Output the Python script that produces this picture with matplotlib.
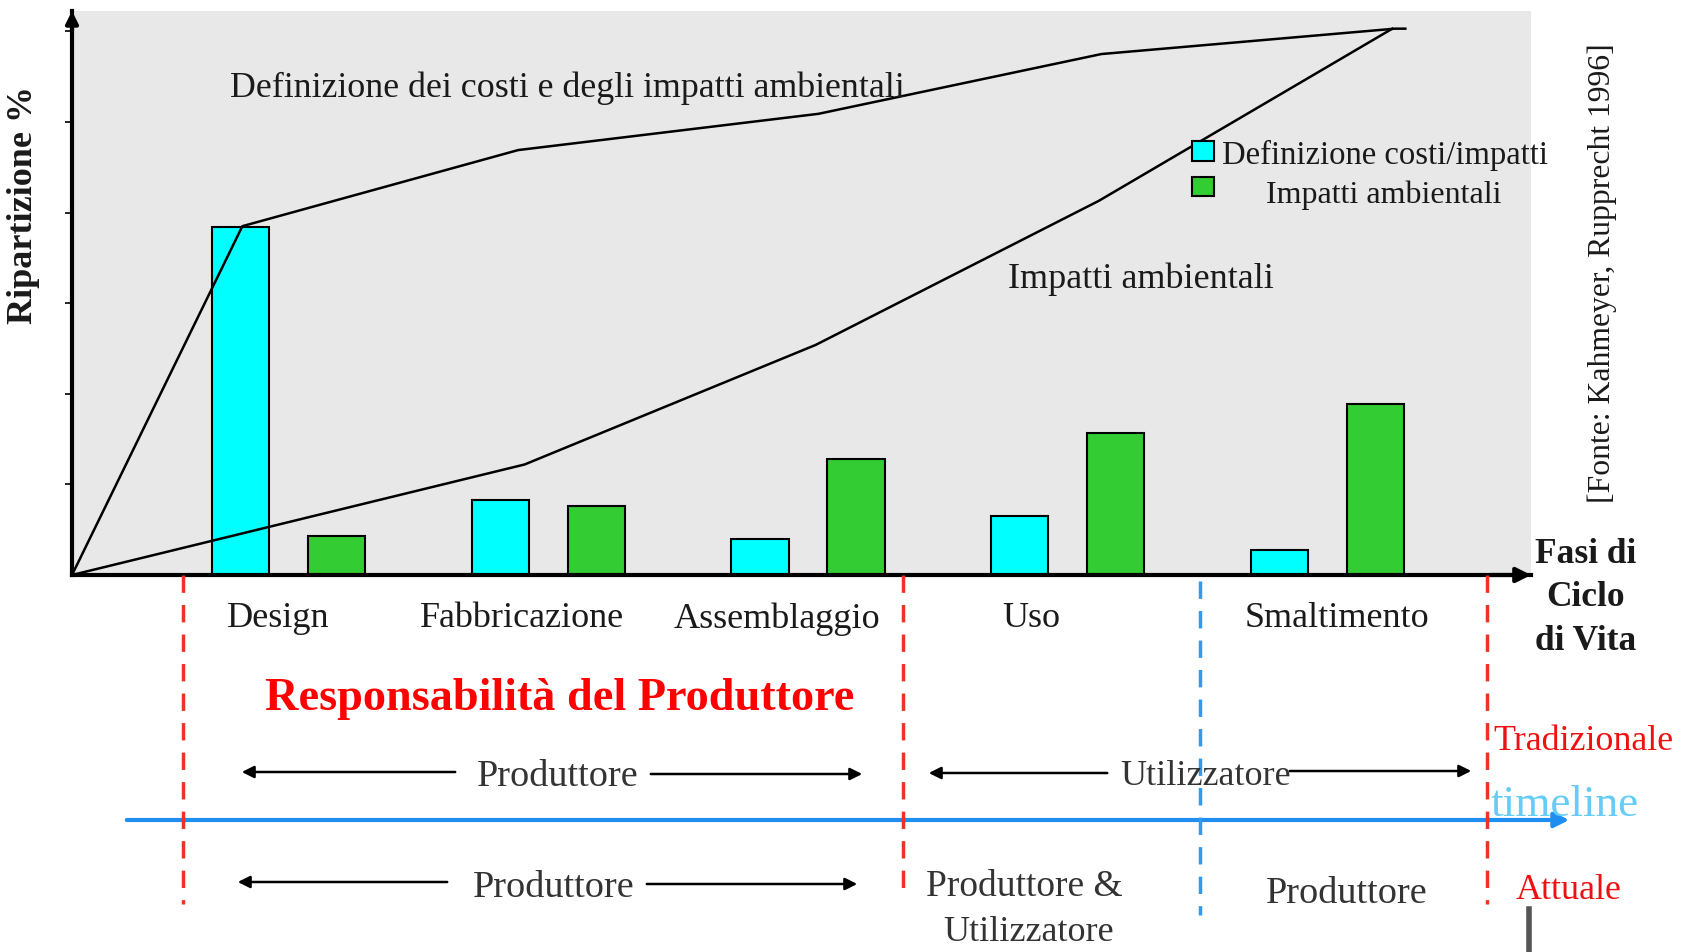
import matplotlib.pyplot as plt
from matplotlib.lines import Line2D
from matplotlib.patches import Rectangle

plt.rcParams['font.family'] = ['Liberation Serif', 'DejaVu Serif']

# dati
fasi = ['Design', 'Fabbricazione', 'Assemblaggio', 'Uso', 'Smaltimento']
definizione = [38.4, 8.3, 4.0, 6.5, 2.8]      # barre ciano
impatti = [4.3, 7.6, 12.8, 15.7, 18.9]         # barre verdi

# curva "Definizione dei costi e degli impatti ambientali"
curva_def_x = [-0.834, -0.178, 0.884, 2.04, 3.13, 4.26, 4.30]
curva_def_y = [0, 38.5, 46.9, 50.9, 57.5, 60.3, 60.3]
# curva "Impatti ambientali"
curva_imp_x = [-0.834, 0.909, 2.03, 3.12, 4.25]
curva_imp_y = [0, 12.2, 25.4, 41.3, 60.3]

W, H = 1689, 953
def fp(x, y):
    return (x / W, 1 - y / H)

nero = '#1a1a1a'
grigio = '#333333'

fig = plt.figure(figsize=(16.89, 9.53), dpi=100)
ax = fig.add_axes([72 / W, 1 - 576 / H, (1531 - 72) / W, (576 - 12) / H])
ax.set_facecolor('#e8e8e8')

xs = range(len(fasi))
ax.bar([x - 0.185 for x in xs], definizione, width=0.22, color='#00ffff',
       edgecolor='black', linewidth=1.5, zorder=2)
ax.bar([x + 0.185 for x in xs], impatti, width=0.22, color='#33cc33',
       edgecolor='black', linewidth=1.5, zorder=2)
ax.plot(curva_def_x, curva_def_y, color='black', lw=1.8, zorder=3)
ax.plot(curva_imp_x, curva_imp_y, color='black', lw=1.8, zorder=3)

ax.set_xlim(-0.834, 4.784)
ax.set_ylim(0, 62.25)
for s in ['top', 'right']:
    ax.spines[s].set_visible(False)
ax.spines['left'].set_linewidth(3)
ax.spines['bottom'].set_linewidth(3)
ax.set_xticks([])
ax.set_yticks([10, 20, 30, 40, 50, 60])
ax.set_yticklabels([])
ax.tick_params(axis='y', length=5, width=1.2, direction='out')

# frecce degli assi
ax.annotate('', xy=(1.002, 0), xytext=(0.97, 0), xycoords='axes fraction',
            arrowprops=dict(arrowstyle='-|>', color='black', lw=3, mutation_scale=22),
            annotation_clip=False)
ax.annotate('', xy=(0, 1.005), xytext=(0, 0.96), xycoords='axes fraction',
            arrowprops=dict(arrowstyle='-|>', color='black', lw=3, mutation_scale=18),
            annotation_clip=False)

# testi dentro il grafico
fig.text(*fp(567, 88), 'Definizione dei costi e degli impatti ambientali',
         ha='center', va='center', size=25.8, color=nero)
fig.text(*fp(1141, 279), 'Impatti ambientali', ha='center', va='center',
         size=26, color=nero)

# legenda
fig.add_artist(Rectangle(fp(1192, 162), 22 / W, 20 / H, transform=fig.transFigure,
                         facecolor='#00ffff', edgecolor='black', lw=1.5))
fig.add_artist(Rectangle(fp(1192, 197), 22 / W, 19 / H, transform=fig.transFigure,
                         facecolor='#33cc33', edgecolor='black', lw=1.5))
fig.text(*fp(1222, 155), 'Definizione costi/impatti', ha='left', va='center',
         size=23.5, color=nero)
fig.text(*fp(1384, 195), 'Impatti ambientali', ha='center', va='center',
         size=23, color=nero)

fig.text(*fp(24, 205), 'Ripartizione %', rotation=90, ha='center', va='center',
         size=26, fontweight='bold', color=nero)
fig.text(*fp(1602, 273), '[Fonte: Kahmeyer, Rupprecht 1996]', rotation=90,
         ha='center', va='center', size=22.8, color=nero)
fig.text(*fp(1586, 598), 'Fasi di\nCiclo\ndi Vita', ha='center', va='center',
         multialignment='center', size=25.5, fontweight='bold', linespacing=1.42,
         color=nero)

# etichette delle fasi
etich_x = [278, 522, 777, 1031, 1337]
for nome, x in zip(fasi, etich_x):
    fig.text(*fp(x, 619), nome, ha='center', va='center', size=26, color=nero)

fig.text(*fp(560, 699), 'Responsabilità del Produttore', ha='center', va='center',
         size=33.3, fontweight='bold', color='#ff0000')

# linee tratteggiate verticali
for x, y1 in [(183, 905), (903, 898), (1487, 905)]:
    fig.add_artist(Line2D([x / W, x / W], [1 - 576 / H, 1 - y1 / H],
                          transform=fig.transFigure, color='#ee3322', lw=2.5,
                          dashes=(5, 3.5)))
fig.add_artist(Line2D([1200 / W, 1200 / W], [1 - 582 / H, 1 - 916 / H],
                      transform=fig.transFigure, color='#3399ee', lw=2.5,
                      dashes=(5, 3.5)))

# timeline
ax.annotate('', xy=fp(1572, 821), xytext=fp(124, 821), xycoords='figure fraction',
            arrowprops=dict(arrowstyle='-|>', color='#1e8ff0', lw=3, mutation_scale=22),
            annotation_clip=False)
fig.text(*fp(1565, 805), 'timeline', ha='center', va='center', size=32.5,
         color='#66ccf5')
fig.text(*fp(1583, 741), 'Tradizionale', ha='center', va='center', size=25.9,
         color='#ee1111')
fig.text(*fp(1569, 891), 'Attuale', ha='center', va='center', size=25.9,
         color='#ee1111')

def freccia(x0, x1, y):
    ax.annotate('', xy=fp(x1, y), xytext=fp(x0, y), xycoords='figure fraction',
                arrowprops=dict(arrowstyle='-|>', color='black', lw=1.8,
                                mutation_scale=18),
                annotation_clip=False)

# riga tradizionale
freccia(458, 239, 773)
freccia(648, 865, 775)
fig.text(*fp(558, 777), 'Produttore', ha='center', va='center', size=27.5, color=grigio)
freccia(1110, 926, 774)
freccia(1287, 1474, 772)
fig.text(*fp(1206, 777), 'Utilizzatore', ha='center', va='center', size=26, color=grigio)

# riga attuale
freccia(450, 235, 883)
freccia(644, 860, 885)
fig.text(*fp(554, 888), 'Produttore', ha='center', va='center', size=27.5, color=grigio)
fig.text(*fp(1024, 887), 'Produttore &', ha='center', va='center', size=27, color=grigio)
fig.text(*fp(1029, 933), 'Utilizzatore', ha='center', va='center', size=26, color=grigio)
fig.text(*fp(1347, 894), 'Produttore', ha='center', va='center', size=27.5, color=grigio)

fig.add_artist(Line2D([1529 / W, 1529 / W], [1 - 910 / H, 0],
                      transform=fig.transFigure, color='#555555', lw=4))

fig.savefig('out.png', dpi=100)
